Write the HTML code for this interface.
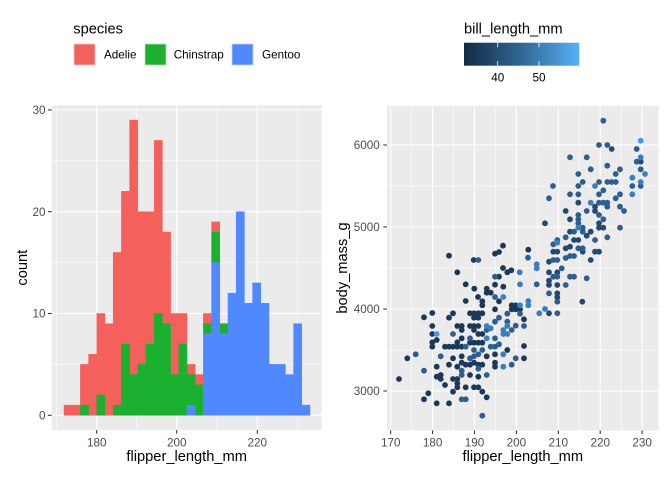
<!DOCTYPE html>
<html><head><meta charset="utf-8"><style>
html,body{margin:0;padding:0;background:#fff;}
svg{display:block;font-family:"Liberation Sans",Arial,sans-serif;}
.tl{font-size:11.7px;fill:#4d4d4d;}
.at{font-size:14.67px;fill:#000;}
.lt{font-size:11.7px;fill:#000;}
.mj{stroke:#fff;stroke-width:1.07;}
.mn{stroke:#fff;stroke-width:0.53;}
.tk{stroke:#333;stroke-width:1.07;}
</style></head><body>
<svg width="672" height="480" viewBox="0 0 672 480" xmlns="http://www.w3.org/2000/svg">
<defs>
<linearGradient id="cb" x1="0" x2="1" y1="0" y2="0">
<stop offset="0" stop-color="#132B43"/>
<stop offset="0.5" stop-color="#316795"/>
<stop offset="1" stop-color="#56B1F7"/>
</linearGradient>
</defs>
<rect width="672" height="480" fill="#fff"/>

<!-- Left legend -->
<text x="73.3" y="33.5" class="at">species</text>
<rect x="73.8" y="43.8" width="21.4" height="21.4" fill="#F4615C" stroke="#e6e6e6" stroke-width="1"/>
<text x="104" y="58.5" class="lt">Adelie</text>
<rect x="144.8" y="43.8" width="21.4" height="21.4" fill="#1BB02F" stroke="#e6e6e6" stroke-width="1"/>
<text x="173.7" y="58.5" class="lt">Chinstrap</text>
<rect x="231.8" y="43.8" width="21.4" height="21.4" fill="#5088FF" stroke="#e6e6e6" stroke-width="1"/>
<text x="262" y="58.5" class="lt">Gentoo</text>

<!-- Right legend -->
<text x="464" y="33.5" class="at">bill_length_mm</text>
<rect x="464" y="42.7" width="115.3" height="23" fill="url(#cb)"/>
<g stroke="#fff" stroke-width="0.8">
<line x1="497.7" y1="42.7" x2="497.7" y2="47.3"/><line x1="497.7" y1="61.1" x2="497.7" y2="65.7"/>
<line x1="539" y1="42.7" x2="539" y2="47.3"/><line x1="539" y1="61.1" x2="539" y2="65.7"/>
</g>
<text x="497.7" y="81.5" class="lt" text-anchor="middle">40</text>
<text x="539" y="81.5" class="lt" text-anchor="middle">50</text>

<!-- Left panel -->
<rect x="51.7" y="105.3" width="270" height="324.7" fill="#EBEBEB"/>
<g class="mn">
<line x1="51.7" x2="321.7" y1="364.4" y2="364.4"/><line x1="51.7" x2="321.7" y1="262.6" y2="262.6"/><line x1="51.7" x2="321.7" y1="160.8" y2="160.8"/>
<line x1="56.6" x2="56.6" y1="105.3" y2="430"/><line x1="136.7" x2="136.7" y1="105.3" y2="430"/><line x1="217" x2="217" y1="105.3" y2="430"/><line x1="297.4" x2="297.4" y1="105.3" y2="430"/>
</g>
<g class="mj">
<line x1="51.7" x2="321.7" y1="415.3" y2="415.3"/><line x1="51.7" x2="321.7" y1="313.5" y2="313.5"/><line x1="51.7" x2="321.7" y1="211.7" y2="211.7"/><line x1="51.7" x2="321.7" y1="109.9" y2="109.9"/>
<line x1="96.7" x2="96.7" y1="105.3" y2="430"/><line x1="176.7" x2="176.7" y1="105.3" y2="430"/><line x1="257.3" x2="257.3" y1="105.3" y2="430"/>
</g>
<!-- bars: red -->
<g fill="#F4615C" stroke="#F4615C" stroke-width="0.5">
<rect x="64" y="405.12" width="8.2" height="10.18"/>
<rect x="72.2" y="405.12" width="8.2" height="10.18"/>
<rect x="80.4" y="364.4" width="8.2" height="40.72"/>
<rect x="88.6" y="354.22" width="8.2" height="61.08"/>
<rect x="96.8" y="313.5" width="8.2" height="81.44"/>
<rect x="105" y="323.68" width="8.2" height="91.62"/>
<rect x="113.2" y="252.42" width="8.2" height="152.7"/>
<rect x="121.4" y="191.34" width="8.2" height="152.7"/>
<rect x="129.6" y="120.08" width="8.2" height="254.5"/>
<rect x="137.8" y="211.7" width="8.2" height="152.7"/>
<rect x="146" y="211.7" width="8.2" height="132.34"/>
<rect x="154.2" y="140.44" width="8.2" height="173.06"/>
<rect x="162.4" y="232.06" width="8.2" height="91.62"/>
<rect x="170.6" y="313.5" width="8.2" height="61.08"/>
<rect x="178.8" y="313.5" width="8.2" height="30.54"/>
<rect x="187" y="364.4" width="8.2" height="10.18"/>
<rect x="195.2" y="374.58" width="8.2" height="10.18"/>
<rect x="203.4" y="313.5" width="8.2" height="10.18"/>
<rect x="211.6" y="221.88" width="8.2" height="10.18"/>
</g>
<g fill="#1BB02F" stroke="#1BB02F" stroke-width="0.5">
<rect x="80.4" y="405.12" width="8.2" height="10.18"/>
<rect x="96.8" y="394.94" width="8.2" height="20.36"/>
<rect x="113.2" y="405.12" width="8.2" height="10.18"/>
<rect x="121.4" y="344.04" width="8.2" height="71.26"/>
<rect x="129.6" y="374.58" width="8.2" height="40.72"/>
<rect x="137.8" y="364.4" width="8.2" height="50.9"/>
<rect x="146" y="344.04" width="8.2" height="71.26"/>
<rect x="154.2" y="313.5" width="8.2" height="101.8"/>
<rect x="162.4" y="323.68" width="8.2" height="91.62"/>
<rect x="170.6" y="374.58" width="8.2" height="40.72"/>
<rect x="178.8" y="344.04" width="8.2" height="71.26"/>
<rect x="187" y="374.58" width="8.2" height="30.54"/>
<rect x="195.2" y="384.76" width="8.2" height="30.54"/>
<rect x="203.4" y="323.68" width="8.2" height="10.18"/>
<rect x="211.6" y="232.06" width="8.2" height="30.54"/>
<rect x="219.8" y="323.68" width="8.2" height="10.18"/>
</g>
<g fill="#5088FF" stroke="#5088FF" stroke-width="0.5">
<rect x="187" y="405.12" width="8.2" height="10.18"/>
<rect x="203.4" y="333.86" width="8.2" height="81.44"/>
<rect x="211.6" y="262.6" width="8.2" height="152.7"/>
<rect x="219.8" y="333.86" width="8.2" height="81.44"/>
<rect x="228" y="293.14" width="8.2" height="122.16"/>
<rect x="236.2" y="211.7" width="8.2" height="203.6"/>
<rect x="244.4" y="303.32" width="8.2" height="111.98"/>
<rect x="252.6" y="282.96" width="8.2" height="132.34"/>
<rect x="260.8" y="303.32" width="8.2" height="111.98"/>
<rect x="269" y="364.4" width="8.2" height="50.9"/>
<rect x="277.2" y="364.4" width="8.2" height="50.9"/>
<rect x="285.4" y="374.58" width="8.2" height="40.72"/>
<rect x="293.6" y="323.68" width="8.2" height="91.62"/>
<rect x="301.8" y="405.12" width="8.2" height="10.18"/>
</g>
<!-- left axes -->
<g class="tk">
<line x1="48" x2="51.7" y1="415.3" y2="415.3"/><line x1="48" x2="51.7" y1="313.5" y2="313.5"/><line x1="48" x2="51.7" y1="211.7" y2="211.7"/><line x1="48" x2="51.7" y1="109.9" y2="109.9"/>
<line x1="96.7" x2="96.7" y1="430" y2="433.7"/><line x1="176.7" x2="176.7" y1="430" y2="433.7"/><line x1="257.3" x2="257.3" y1="430" y2="433.7"/>
</g>
<g class="tl" text-anchor="end">
<text x="45.5" y="419.5">0</text><text x="45.5" y="317.7">10</text><text x="45.5" y="215.9">20</text><text x="45.5" y="114.1">30</text>
</g>
<g class="tl" text-anchor="middle">
<text x="96.7" y="446.5">180</text><text x="176.7" y="446.5">200</text><text x="257.3" y="446.5">220</text>
</g>
<text x="186.7" y="461" class="at" text-anchor="middle">flipper_length_mm</text>
<text transform="translate(27,267.7) rotate(-90)" class="at" text-anchor="middle">count</text>

<!-- Right panel -->
<rect x="387" y="105.7" width="271.5" height="324.7" fill="#EBEBEB"/>
<g class="mn">
<line x1="387" x2="658.5" y1="350" y2="350"/><line x1="387" x2="658.5" y1="268" y2="268"/><line x1="387" x2="658.5" y1="186" y2="186"/>
<line x1="411.7" x2="411.7" y1="105.7" y2="430.4"/><line x1="453.6" x2="453.6" y1="105.7" y2="430.4"/><line x1="495.5" x2="495.5" y1="105.7" y2="430.4"/><line x1="537.4" x2="537.4" y1="105.7" y2="430.4"/><line x1="579.3" x2="579.3" y1="105.7" y2="430.4"/><line x1="621.2" x2="621.2" y1="105.7" y2="430.4"/>
</g>
<g class="mj">
<line x1="387" x2="658.5" y1="391" y2="391"/><line x1="387" x2="658.5" y1="309" y2="309"/><line x1="387" x2="658.5" y1="227" y2="227"/><line x1="387" x2="658.5" y1="145" y2="145"/>
<line x1="390.7" x2="390.7" y1="105.7" y2="430.4"/><line x1="432.6" x2="432.6" y1="105.7" y2="430.4"/><line x1="474.5" x2="474.5" y1="105.7" y2="430.4"/><line x1="516.4" x2="516.4" y1="105.7" y2="430.4"/><line x1="558.3" x2="558.3" y1="105.7" y2="430.4"/><line x1="600.2" x2="600.2" y1="105.7" y2="430.4"/><line x1="642.1" x2="642.1" y1="105.7" y2="430.4"/>
</g>
<!-- points dark -->
<g fill="#1d3856">
<circle cx="503" cy="245.7" r="2.9"/><circle cx="528.3" cy="249.7" r="2.9"/><circle cx="449" cy="255.7" r="2.9"/><circle cx="495" cy="253.7" r="2.9"/><circle cx="499" cy="252" r="2.9"/><circle cx="473.7" cy="260" r="2.9"/><circle cx="457.3" cy="272.3" r="2.9"/><circle cx="503" cy="268" r="2.9"/><circle cx="507.3" cy="272.3" r="2.9"/><circle cx="511.3" cy="270.3" r="2.9"/><circle cx="499" cy="276.7" r="2.9"/><circle cx="465.7" cy="284.3" r="2.9"/><circle cx="474.3" cy="288.7" r="2.9"/><circle cx="486.7" cy="288.7" r="2.9"/><circle cx="486.7" cy="292.7" r="2.9"/><circle cx="490.7" cy="292.7" r="2.9"/><circle cx="495" cy="284.7" r="2.9"/><circle cx="503.3" cy="286.7" r="2.9"/><circle cx="478" cy="297" r="2.9"/><circle cx="482.3" cy="301.3" r="2.9"/><circle cx="482.3" cy="305.3" r="2.9"/><circle cx="465.7" cy="301" r="2.9"/><circle cx="499" cy="301.3" r="2.9"/><circle cx="511.7" cy="305.3" r="2.9"/><circle cx="515.7" cy="305.3" r="2.9"/><circle cx="424" cy="317.3" r="2.9"/><circle cx="432.3" cy="313" r="2.9"/><circle cx="449" cy="317.7" r="2.9"/><circle cx="453" cy="313.3" r="2.9"/><circle cx="470" cy="313.3" r="2.9"/><circle cx="474" cy="313.3" r="2.9"/><circle cx="478.3" cy="313.3" r="2.9"/><circle cx="482.3" cy="313.3" r="2.9"/><circle cx="474" cy="317.7" r="2.9"/><circle cx="478.3" cy="317.7" r="2.9"/><circle cx="495" cy="309.3" r="2.9"/><circle cx="511.7" cy="309.3" r="2.9"/><circle cx="515.7" cy="309.3" r="2.9"/><circle cx="520" cy="309.3" r="2.9"/><circle cx="524" cy="319.3" r="2.9"/><circle cx="432.3" cy="326" r="2.9"/><circle cx="457.3" cy="326" r="2.9"/><circle cx="461.7" cy="326" r="2.9"/><circle cx="470" cy="326" r="2.9"/><circle cx="474" cy="326" r="2.9"/><circle cx="478.3" cy="326" r="2.9"/><circle cx="432.3" cy="334" r="2.9"/><circle cx="461.7" cy="330" r="2.9"/><circle cx="461.7" cy="338.3" r="2.9"/><circle cx="474" cy="330" r="2.9"/><circle cx="478.3" cy="334" r="2.9"/><circle cx="482.3" cy="334" r="2.9"/><circle cx="432.3" cy="342.3" r="2.9"/><circle cx="436.7" cy="340" r="2.9"/><circle cx="445" cy="346.7" r="2.9"/><circle cx="449" cy="346.7" r="2.9"/><circle cx="453" cy="346.7" r="2.9"/><circle cx="457.3" cy="342.3" r="2.9"/><circle cx="457.3" cy="346.7" r="2.9"/><circle cx="461.7" cy="346.7" r="2.9"/><circle cx="470" cy="342.7" r="2.9"/><circle cx="474" cy="342.7" r="2.9"/><circle cx="478.3" cy="342.7" r="2.9"/><circle cx="482.3" cy="342.7" r="2.9"/><circle cx="524" cy="346" r="2.9"/><circle cx="432.3" cy="346.7" r="2.9"/><circle cx="407.3" cy="358.3" r="2.9"/><circle cx="453" cy="358.3" r="2.9"/><circle cx="461.7" cy="356.3" r="2.9"/><circle cx="486.7" cy="356.3" r="2.9"/><circle cx="495" cy="354.3" r="2.9"/><circle cx="507.3" cy="350" r="2.9"/><circle cx="524" cy="358.3" r="2.9"/><circle cx="436.7" cy="366.7" r="2.9"/><circle cx="449" cy="364.7" r="2.9"/><circle cx="457.3" cy="366.7" r="2.9"/><circle cx="461.7" cy="362.7" r="2.9"/><circle cx="465.7" cy="364.7" r="2.9"/><circle cx="470" cy="364.7" r="2.9"/><circle cx="474" cy="362.7" r="2.9"/><circle cx="478.3" cy="364.7" r="2.9"/><circle cx="482.3" cy="364.7" r="2.9"/><circle cx="495" cy="362.7" r="2.9"/><circle cx="495" cy="366.7" r="2.9"/><circle cx="399" cy="379" r="2.9"/><circle cx="436.7" cy="376.7" r="2.9"/><circle cx="440.7" cy="375" r="2.9"/><circle cx="440.7" cy="379" r="2.9"/><circle cx="453" cy="379" r="2.9"/><circle cx="457.3" cy="379" r="2.9"/><circle cx="457.3" cy="383.3" r="2.9"/><circle cx="457.3" cy="387.3" r="2.9"/><circle cx="470" cy="375" r="2.9"/><circle cx="478.3" cy="376.7" r="2.9"/><circle cx="445" cy="385" r="2.9"/><circle cx="465.7" cy="387.3" r="2.9"/><circle cx="474" cy="387.3" r="2.9"/><circle cx="478.3" cy="387.3" r="2.9"/><circle cx="453" cy="391.7" r="2.9"/><circle cx="482.3" cy="391.7" r="2.9"/><circle cx="428.3" cy="393.3" r="2.9"/><circle cx="486.7" cy="397.3" r="2.9"/><circle cx="424" cy="399.3" r="2.9"/><circle cx="436.7" cy="403.3" r="2.9"/><circle cx="449" cy="403.3" r="2.9"/>
</g>
<!-- medium-dark -->
<g fill="#24496f">
<circle cx="611.7" cy="149" r="2.9"/><circle cx="640.7" cy="161.7" r="2.9"/><circle cx="578.3" cy="202.7" r="2.9"/><circle cx="595" cy="206.7" r="2.9"/><circle cx="565.7" cy="211" r="2.9"/><circle cx="595" cy="211" r="2.9"/><circle cx="570" cy="219.3" r="2.9"/><circle cx="545" cy="223.3" r="2.9"/><circle cx="599" cy="223.3" r="2.9"/><circle cx="599" cy="227.7" r="2.9"/><circle cx="603.3" cy="227.7" r="2.9"/><circle cx="570" cy="231.7" r="2.9"/><circle cx="590.7" cy="231.7" r="2.9"/><circle cx="586.7" cy="235.7" r="2.9"/><circle cx="578.3" cy="240" r="2.9"/><circle cx="574" cy="240" r="2.9"/><circle cx="565.7" cy="248.3" r="2.9"/><circle cx="570" cy="246.7" r="2.9"/><circle cx="553.3" cy="251.7" r="2.9"/><circle cx="557.3" cy="251.7" r="2.9"/><circle cx="582.7" cy="251.7" r="2.9"/><circle cx="595" cy="251.7" r="2.9"/><circle cx="599" cy="251.7" r="2.9"/><circle cx="549" cy="261.7" r="2.9"/><circle cx="590.7" cy="260" r="2.9"/><circle cx="549" cy="272.3" r="2.9"/><circle cx="557.3" cy="272.3" r="2.9"/><circle cx="549" cy="280.7" r="2.9"/><circle cx="549" cy="285" r="2.9"/><circle cx="557.3" cy="285" r="2.9"/><circle cx="557.3" cy="293.3" r="2.9"/><circle cx="557.3" cy="297.3" r="2.9"/><circle cx="582.3" cy="301.7" r="2.9"/><circle cx="549" cy="313.3" r="2.9"/>
</g>
<!-- medium -->
<g fill="#2d5e8e">
<circle cx="478.3" cy="260" r="2.9"/><circle cx="528" cy="257.7" r="2.9"/><circle cx="495" cy="276.7" r="2.9"/><circle cx="536.7" cy="284.3" r="2.9"/><circle cx="495" cy="297" r="2.9"/><circle cx="507.3" cy="313.7" r="2.9"/><circle cx="520" cy="313.7" r="2.9"/><circle cx="499" cy="317.7" r="2.9"/><circle cx="495" cy="321.7" r="2.9"/><circle cx="486.7" cy="330" r="2.9"/><circle cx="511.7" cy="330" r="2.9"/><circle cx="507.3" cy="321.7" r="2.9"/><circle cx="515.7" cy="325.7" r="2.9"/><circle cx="524" cy="326" r="2.9"/><circle cx="453" cy="334" r="2.9"/><circle cx="470" cy="338.3" r="2.9"/><circle cx="495" cy="338.3" r="2.9"/><circle cx="465.7" cy="346.7" r="2.9"/><circle cx="490.7" cy="346.7" r="2.9"/><circle cx="495" cy="346.7" r="2.9"/><circle cx="499" cy="344.3" r="2.9"/><circle cx="415.7" cy="354.3" r="2.9"/><circle cx="440.7" cy="356.3" r="2.9"/><circle cx="470" cy="358.3" r="2.9"/><circle cx="474" cy="356.3" r="2.9"/><circle cx="478.3" cy="354.3" r="2.9"/><circle cx="474" cy="350" r="2.9"/><circle cx="482.3" cy="350" r="2.9"/><circle cx="515.7" cy="358.3" r="2.9"/><circle cx="511.7" cy="364.7" r="2.9"/><circle cx="424" cy="370.7" r="2.9"/><circle cx="461.7" cy="370.7" r="2.9"/><circle cx="461.7" cy="375" r="2.9"/><circle cx="478.3" cy="368.7" r="2.9"/><circle cx="486.7" cy="375" r="2.9"/><circle cx="461.7" cy="399.3" r="2.9"/><circle cx="465.7" cy="399.3" r="2.9"/><circle cx="482.3" cy="415.7" r="2.9"/>
<circle cx="603.3" cy="120.7" r="2.9"/><circle cx="599" cy="145" r="2.9"/><circle cx="607.3" cy="145" r="2.9"/><circle cx="636.7" cy="149" r="2.9"/><circle cx="570" cy="157.3" r="2.9"/><circle cx="586.7" cy="157.3" r="2.9"/><circle cx="636.7" cy="161.7" r="2.9"/><circle cx="607.3" cy="165.7" r="2.9"/><circle cx="590.7" cy="169.3" r="2.9"/><circle cx="620" cy="169.3" r="2.9"/><circle cx="615.7" cy="174" r="2.9"/><circle cx="578.3" cy="174" r="2.9"/><circle cx="640.7" cy="169.3" r="2.9"/><circle cx="582.7" cy="182" r="2.9"/><circle cx="578.3" cy="186" r="2.9"/><circle cx="599" cy="182" r="2.9"/><circle cx="607.3" cy="182" r="2.9"/><circle cx="611.7" cy="182" r="2.9"/><circle cx="615.7" cy="182" r="2.9"/><circle cx="553" cy="186" r="2.9"/><circle cx="603.3" cy="190.3" r="2.9"/><circle cx="632.3" cy="186" r="2.9"/><circle cx="640.7" cy="186" r="2.9"/><circle cx="570" cy="194.3" r="2.9"/><circle cx="578.3" cy="194.3" r="2.9"/><circle cx="599" cy="194.3" r="2.9"/><circle cx="620" cy="194.3" r="2.9"/><circle cx="615.7" cy="198.3" r="2.9"/><circle cx="549" cy="198.3" r="2.9"/><circle cx="599" cy="202.7" r="2.9"/><circle cx="603.3" cy="202.7" r="2.9"/><circle cx="607.3" cy="202.7" r="2.9"/><circle cx="607.3" cy="206.7" r="2.9"/><circle cx="620" cy="206.7" r="2.9"/><circle cx="624" cy="211" r="2.9"/><circle cx="586.7" cy="211" r="2.9"/><circle cx="599" cy="215" r="2.9"/><circle cx="578.3" cy="215" r="2.9"/><circle cx="578.3" cy="219.3" r="2.9"/><circle cx="578.3" cy="223.3" r="2.9"/><circle cx="603.3" cy="219.3" r="2.9"/><circle cx="620" cy="227.7" r="2.9"/><circle cx="582.7" cy="227.7" r="2.9"/><circle cx="574" cy="231.7" r="2.9"/><circle cx="582.7" cy="231.7" r="2.9"/><circle cx="565.7" cy="237.3" r="2.9"/><circle cx="607.3" cy="237.3" r="2.9"/><circle cx="595" cy="240" r="2.9"/><circle cx="557.3" cy="240" r="2.9"/><circle cx="553.3" cy="244.3" r="2.9"/><circle cx="578.3" cy="248.3" r="2.9"/><circle cx="582.7" cy="248.3" r="2.9"/>
<circle cx="553.3" cy="260" r="2.9"/><circle cx="557.3" cy="260" r="2.9"/><circle cx="565.7" cy="258" r="2.9"/><circle cx="570" cy="256" r="2.9"/><circle cx="574" cy="256" r="2.9"/><circle cx="561.7" cy="268.3" r="2.9"/><circle cx="553.3" cy="276.7" r="2.9"/><circle cx="557.3" cy="276.7" r="2.9"/><circle cx="570" cy="276.7" r="2.9"/><circle cx="574" cy="276.7" r="2.9"/><circle cx="586.7" cy="278.3" r="2.9"/><circle cx="565.7" cy="285" r="2.9"/><circle cx="549" cy="293.3" r="2.9"/><circle cx="557.3" cy="301.7" r="2.9"/><circle cx="557.3" cy="313.3" r="2.9"/>
</g>
<!-- light -->
<g fill="#3b7ebf">
<circle cx="536.7" cy="264.3" r="2.9"/><circle cx="536.7" cy="268.3" r="2.9"/><circle cx="519.7" cy="272.3" r="2.9"/><circle cx="520" cy="284.3" r="2.9"/><circle cx="503.3" cy="297" r="2.9"/><circle cx="520" cy="305.3" r="2.9"/><circle cx="528.3" cy="301" r="2.9"/><circle cx="528.3" cy="305.3" r="2.9"/><circle cx="539.3" cy="313.3" r="2.9"/><circle cx="486.7" cy="326" r="2.9"/><circle cx="490.7" cy="328.3" r="2.9"/><circle cx="507.3" cy="326" r="2.9"/><circle cx="503.3" cy="330" r="2.9"/><circle cx="503.3" cy="334" r="2.9"/><circle cx="507.3" cy="334" r="2.9"/><circle cx="486.7" cy="338.3" r="2.9"/><circle cx="503.3" cy="354.3" r="2.9"/><circle cx="503.3" cy="366.7" r="2.9"/>
<circle cx="640.7" cy="157.3" r="2.9"/><circle cx="645" cy="174" r="2.9"/><circle cx="632.3" cy="177.7" r="2.9"/><circle cx="595" cy="186" r="2.9"/><circle cx="640.7" cy="182" r="2.9"/><circle cx="632.3" cy="194.3" r="2.9"/><circle cx="590.7" cy="202.7" r="2.9"/><circle cx="578.3" cy="227.7" r="2.9"/><circle cx="557.3" cy="242.7" r="2.9"/><circle cx="545" cy="309" r="2.9"/>
</g>
<g fill="#4797e2">
<circle cx="436.7" cy="334" r="2.9"/><circle cx="640.7" cy="140.7" r="2.9"/>
</g>
<!-- right axes -->
<g class="tk">
<line x1="383.3" x2="387" y1="391" y2="391"/><line x1="383.3" x2="387" y1="309" y2="309"/><line x1="383.3" x2="387" y1="227" y2="227"/><line x1="383.3" x2="387" y1="145" y2="145"/>
<line x1="390.7" x2="390.7" y1="430.4" y2="434.1"/><line x1="432.6" x2="432.6" y1="430.4" y2="434.1"/><line x1="474.5" x2="474.5" y1="430.4" y2="434.1"/><line x1="516.4" x2="516.4" y1="430.4" y2="434.1"/><line x1="558.3" x2="558.3" y1="430.4" y2="434.1"/><line x1="600.2" x2="600.2" y1="430.4" y2="434.1"/><line x1="642.1" x2="642.1" y1="430.4" y2="434.1"/>
</g>
<g class="tl" text-anchor="end">
<text x="379.8" y="395.2">3000</text><text x="379.8" y="313.2">4000</text><text x="379.8" y="231.2">5000</text><text x="379.8" y="149.2">6000</text>
</g>
<g class="tl" text-anchor="middle">
<text x="390.7" y="446.5">170</text><text x="432.6" y="446.5">180</text><text x="474.5" y="446.5">190</text><text x="516.4" y="446.5">200</text><text x="558.3" y="446.5">210</text><text x="600.2" y="446.5">220</text><text x="642.1" y="446.5">230</text>
</g>
<text x="522.8" y="461" class="at" text-anchor="middle">flipper_length_mm</text>
<text transform="translate(347,268) rotate(-90)" class="at" text-anchor="middle">body_mass_g</text>
</svg>
</body></html>
